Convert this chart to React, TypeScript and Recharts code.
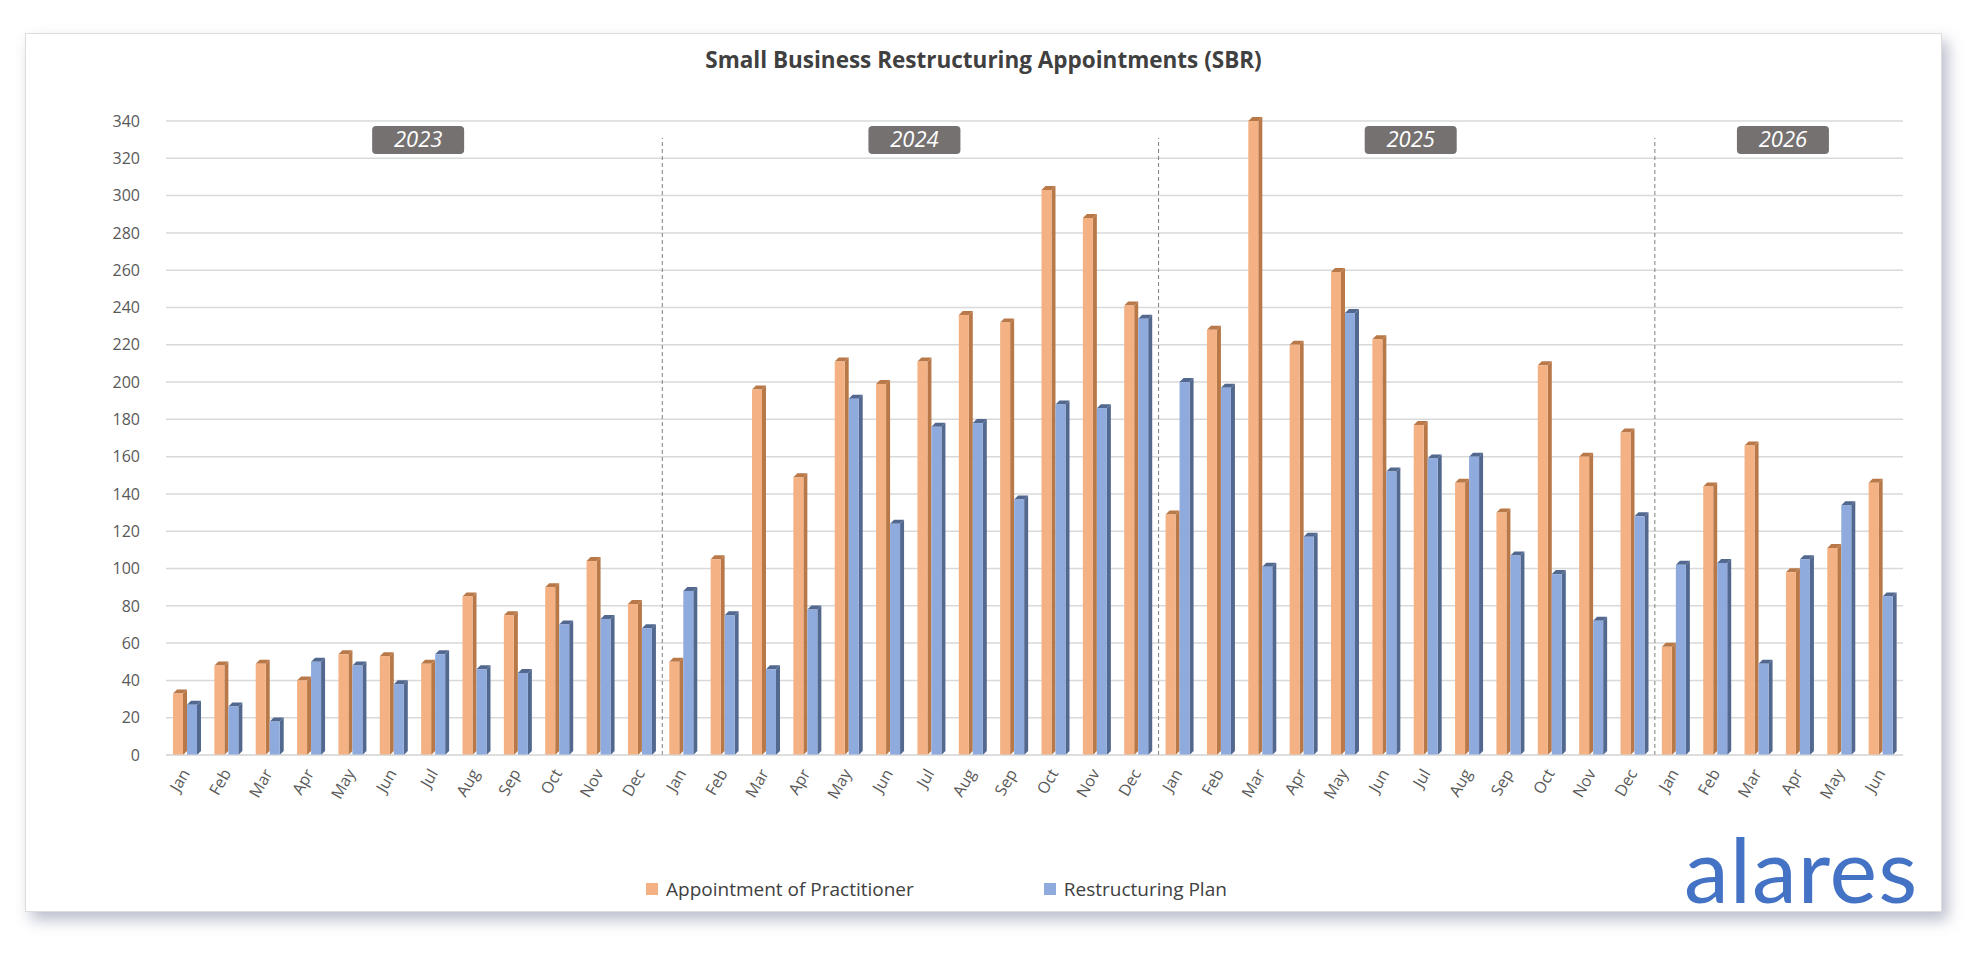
import React from "react";
import { ComposedChart, Bar, XAxis, YAxis, CartesianGrid, ReferenceLine } from "recharts";

const months = ["Jan","Feb","Mar","Apr","May","Jun","Jul","Aug","Sep","Oct","Nov","Dec"];
const years = ["2023", "2024", "2025", "2026"];
const appointment = [33,48,49,40,54,53,49,85,75,90,104,81, 50,105,196,149,211,199,211,236,232,303,288,241, 129,228,340,220,259,223,177,146,130,209,160,173, 58,144,166,98,111,146];
const plan = [27,26,18,50,48,38,54,46,44,70,73,68, 88,75,46,78,191,124,176,178,137,188,186,234, 200,197,101,117,237,152,159,160,107,97,72,128, 102,103,49,105,134,85];
const yTicks = [0,20,40,60,80,100,120,140,160,180,200,220,240,260,280,300,320,340];

const data = appointment.map((a, i) => ({
  idx: i,
  appointment: a,
  plan: plan[i],
}));
const xTicks = data.map((d) => d.idx);

const FONT = "'Open Sans', sans-serif";

const Bar3D = (props: any) => {
  const { x, y, width, height, fill, side } = props;
  if (!height || height <= 0) return null;
  const d = 4;
  const w = width - d;
  return (
    <g>
      <polygon points={`${x + w},${y} ${x + w + d},${y - d} ${x + w + d},${y + height - d} ${x + w},${y + height}`} fill={side} />
      <polygon points={`${x},${y} ${x + d},${y - d} ${x + w + d},${y - d} ${x + w},${y}`} fill={side} />
      <rect x={x} y={y} width={w} height={height} fill={fill} />
    </g>
  );
};

const YearLabel = (text: string) => (p: any) => {
  const vb = p.viewBox || {};
  const cx = vb.x + 4;
  const top = 92;
  return (
    <g>
      <rect x={cx - 46} y={top} width={92} height={28} rx={4} fill="#757171" />
      <text x={cx} y={top + 21} textAnchor="middle" fill="#fff" fontSize={22} fontStyle="italic" fontFamily={FONT}>{text}</text>
    </g>
  );
};

const MonthTick = (p: any) => {
  const { x, y, payload } = p;
  const m = months[payload.value % 12];
  return (
    <text x={x} y={y + 8} transform={`rotate(-60 ${x} ${y + 8})`} textAnchor="end" dominantBaseline="middle" fontSize={16} fill="#595959" fontFamily={FONT}>{m}</text>
  );
};

export default function App() {
  return (
    <div style={{ position: "relative", width: 1970, height: 950 }}>
      <div style={{ position: "absolute", left: 17, top: 25, width: 1915, height: 877, background: "#fff", boxShadow: "6px 8px 14px rgba(60,70,110,0.35)", border: "1px solid #ddd" }}>
        <div style={{ position: "absolute", top: 10, width: "100%", textAlign: "center", fontFamily: FONT, fontWeight: 700, fontSize: 22.5, color: "#404040" }}>
          Small Business Restructuring Appointments (SBR)
        </div>
        <ComposedChart width={1915} height={877} data={data} margin={{ top: 87, right: 38, left: 0, bottom: 106 }} barGap={0} barSize={14}>
          <CartesianGrid vertical={false} stroke="#d9d9d9" strokeWidth={1.5} />
          <XAxis dataKey="idx" type="number" domain={[-0.5, 41.5]} ticks={xTicks} interval={0} tick={<MonthTick />} tickLine={false} axisLine={{ stroke: "#d9d9d9" }} height={50} />
          <YAxis domain={[0, 340]} ticks={yTicks} interval={0} width={140} axisLine={false} tickLine={false} tickMargin={20} tick={{ fontSize: 16, fill: "#595959", fontFamily: FONT }} />
          {[11.5, 23.5, 35.5].map((v) => (
            <ReferenceLine key={v} segment={[{ x: v, y: 0 }, { x: v, y: 331 }]} stroke="#7f7f7f" strokeDasharray="4 3" />
          ))}
          {[5.5, 17.5, 29.5, 38.5].map((v, i) => (
            <ReferenceLine key={"y" + v} x={v} stroke="none" label={YearLabel(years[i])} />
          ))}
          <Bar dataKey="appointment" fill="#F4B183" isAnimationActive={false} shape={(p: any) => <Bar3D {...p} side="#B87848" />} />
          <Bar dataKey="plan" fill="#8FAADC" isAnimationActive={false} shape={(p: any) => <Bar3D {...p} side="#52688F" />} />
        </ComposedChart>
        <div style={{ position: "absolute", top: 842, left: 620, display: "flex", gap: 130, fontFamily: FONT, fontSize: 19, color: "#404040" }}>
          <span style={{ display: "flex", alignItems: "center" }}><span style={{ width: 12, height: 12, background: "#F4B183", marginRight: 8, display: "inline-block" }} />Appointment of Practitioner</span>
          <span style={{ display: "flex", alignItems: "center" }}><span style={{ width: 12, height: 12, background: "#8FAADC", marginRight: 8, display: "inline-block" }} />Restructuring Plan</span>
        </div>
        <div style={{ position: "absolute", top: 780, left: 1658, fontFamily: "Lato, sans-serif", fontSize: 90, color: "#4472C4", letterSpacing: 1 }}>alares</div>
      </div>
    </div>
  );
}
